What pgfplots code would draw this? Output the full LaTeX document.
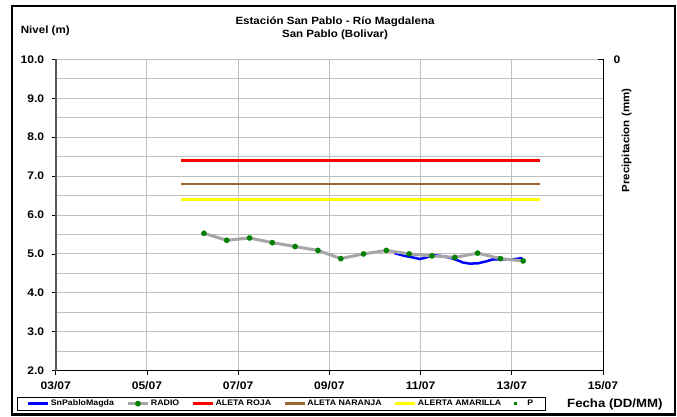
\documentclass[border=0pt]{standalone}
\usepackage{pgfplots}
\usepackage{pgfplotstable}
\pgfplotsset{compat=1.18}
\usepackage{fontspec}
\setmainfont{Liberation Sans}[FakeStretch=1.1]

\definecolor{gridgray}{RGB}{192,192,192}
\definecolor{radiogray}{RGB}{166,166,166}
\definecolor{dotgreen}{RGB}{0,128,0}
\definecolor{naranja}{RGB}{153,102,51}
\definecolor{amarillo}{RGB}{255,255,0}
\newcommand{\fs}[1]{\fontsize{#1}{#1}\selectfont\bfseries}

% day of July, level (m)
\pgfplotstableread{
x y
6.25 5.53
6.75 5.35
7.25 5.41
7.75 5.29
8.25 5.19
8.75 5.09
9.25 4.88
9.75 5.00
10.25 5.09
10.75 5.00
11.25 4.95
11.75 4.91
12.25 5.02
12.75 4.88
13.25 4.82
}\radio

\pgfplotstableread{
x y
10.43 5.02
10.65 4.95
10.83 4.91
10.98 4.87
11.13 4.91
11.27 4.97
11.50 4.94
11.71 4.88
11.93 4.78
12.08 4.75
12.26 4.76
12.44 4.81
12.59 4.86
12.80 4.86
13.02 4.86
13.21 4.89
13.24 4.81
}\sensor

\begin{document}
\begin{tikzpicture}[x=1pt,y=1pt]
\useasboundingbox (0,0) rectangle (677,416);
\fill[white] (0,0) rectangle (677,416);
\begin{axis}[
  at={(55.7pt,45.3pt)}, anchor=south west,
  scale only axis, width=547.3pt, height=311.4pt,
  xmin=3, xmax=15, ymin=2, ymax=10,
  axis x line*=bottom, axis y line*=left,
  x axis line style={-, black, line width=1pt},
  y axis line style={-, black!65, line width=1.6pt},
  xtick={3,5,...,15},
  xticklabels={03/07,05/07,07/07,09/07,11/07,13/07,15/07},
  ytick={2,3,...,10},
  minor ytick={2.5,3.5,...,9.5},
  xmajorgrids, ymajorgrids, yminorgrids,
  grid style={gridgray, line width=0.9pt},
  minor grid style={gridgray, line width=0.9pt},
  tick align=outside, major tick length=4pt, minor tick length=1pt,
  tick style={black, line width=0.8pt},
  tick label style={font=\fs{11}},
  xticklabel style={yshift=-3pt},
  /pgf/number format/assume math mode=true,
  yticklabel style={xshift=-4pt, /pgf/number format/.cd, fixed, fixed zerofill, precision=1},
  legend image code/.code={\draw[mark repeat=2,mark phase=2,#1] plot coordinates {(0pt,0pt) (10pt,0pt) (20pt,0pt)};},
  legend columns=6,
  legend style={at={(-0.0713,-0.0854)}, anchor=north west, draw=black,
    font=\fs{8}, inner xsep=10pt, inner ysep=1pt,
    nodes={inner xsep=1.5pt, inner ysep=1.5pt},
    /tikz/every even column/.append style={column sep=11pt}},
  legend cell align=left,
]
\addplot[blue, line width=2.5pt] table {\sensor};
\addlegendentry{SnPabloMagda}
\addplot[radiogray, line width=3pt, mark=*, mark size=2.7pt,
  mark options={solid, fill=dotgreen, draw=dotgreen, line width=0.2pt}] table {\radio};
\addlegendentry{RADIO}
\addplot[red, line width=2.3pt] coordinates {(5.745,7.4) (13.61,7.4)};
\addlegendentry{ALETA ROJA}
\addplot[naranja, line width=2.3pt] coordinates {(5.745,6.8) (13.61,6.8)};
\addlegendentry{ALETA NARANJA}
\addplot[amarillo, line width=2.3pt] coordinates {(5.745,6.4) (13.61,6.4)};
\addlegendentry{ALERTA AMARILLA}
\addlegendimage{only marks, mark=square*, mark size=1pt, dotgreen}
\addlegendentry{\hspace{10pt}P}
\end{axis}
\begin{axis}[
  at={(55.7pt,45.3pt)}, anchor=south west,
  scale only axis, width=547.3pt, height=311.4pt,
  xmin=3, xmax=15, ymin=0, ymax=10, y dir=reverse,
  axis x line=none, axis y line*=right,
  axis line style={-, black, line width=1pt},
  ytick={0}, tick align=inside, major tick length=5pt,
  tick style={black, line width=0.8pt},
  yticklabel style={font=\fs{11}, xshift=7pt},
  /pgf/number format/assume math mode=true,
]
\addplot[draw=none] coordinates {(3,0) (15,0)};
\end{axis}
\node[font=\fs{10.5}, anchor=base] at (335,391.7) {Estación San Pablo - Río Magdalena};
\node[font=\fs{10.5}, anchor=base] at (335,378.7) {San Pablo (Bolivar)};
\node[font=\fs{10.5}, anchor=base west, inner sep=0pt] at (20.7,382.5) {Nivel (m)};
\node[font=\fs{10.5}, rotate=90] at (626.7,275.5) {Precipitacion (mm)};
\node[font=\fs{12}, anchor=base west, inner sep=0pt] at (567,8.3) {Fecha (DD/MM)};
\draw[black, line width=2.2pt] (12,1.5) rectangle (675,410);
\end{tikzpicture}
\end{document}
